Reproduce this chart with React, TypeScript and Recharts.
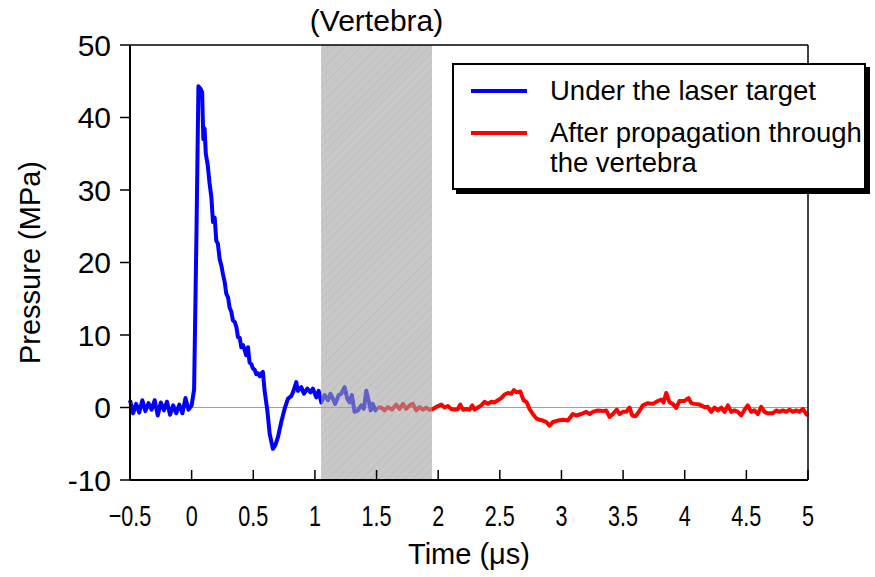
import {
  LineChart,
  Line,
  XAxis,
  YAxis,
  ReferenceArea,
  ReferenceLine,
  Legend,
} from "recharts";

const FONT = '"Liberation Sans", Arial, Helvetica, sans-serif';

// time axis (µs) and pressure (MPa) samples for each probe
const blueTime = [
  -0.5, -0.475, -0.45, -0.425, -0.4, -0.375, -0.35, -0.325, -0.3, -0.275, -0.25,
  -0.225, -0.2, -0.175, -0.15, -0.125, -0.1, -0.075, -0.05, -0.025, 0, 0.02,
  0.04, 0.055, 0.07, 0.085, 0.095, 0.105, 0.115, 0.13, 0.145, 0.16, 0.173,
  0.187, 0.2, 0.213, 0.227, 0.241, 0.254, 0.268, 0.281, 0.295, 0.308, 0.322,
  0.335, 0.35, 0.363, 0.376, 0.39, 0.403, 0.417, 0.43, 0.443, 0.457, 0.47,
  0.484, 0.497, 0.511, 0.525, 0.538, 0.552, 0.565, 0.578, 0.592, 0.614, 0.633,
  0.659, 0.679, 0.7, 0.727, 0.754, 0.781, 0.809, 0.822, 0.849, 0.862, 0.89,
  0.911, 0.938, 0.965, 0.984, 1.011, 1.03, 1.052, 1.079, 1.105, 1.127, 1.146,
  1.165, 1.192, 1.214, 1.241, 1.263, 1.281, 1.3, 1.322, 1.349, 1.376, 1.397,
  1.417, 1.436, 1.452, 1.47, 1.49, 1.506,
];
const bluePressure = [
  1.0, -0.8, 0.5, -0.7, 1.0, -0.5, 0.6, -0.3, 1.0, -1.1, 0.7, -0.4, 0.8, -1.0,
  0.3, -0.8, 0.4, -0.8, 1.3, -0.3, 0.3, 2.5, 25, 44.3, 44.0, 43.5, 37, 38.5,
  35, 33.5, 31, 29, 25.6, 26.2, 23, 22.6, 20.5, 19.6, 18.4, 17.3, 15.7, 15.2,
  13.8, 13.2, 12, 11.8, 11.1, 9.7, 9.6, 8.3, 8.6, 7.9, 7.2, 8.3, 6.2, 6.0, 5.4,
  5.2, 4.6, 4.7, 4.3, 4.7, 4.9, 2.3, -0.4, -3.6, -5.7, -5.2, -4.1, -2, -0.2,
  1.2, 1.6, 2.1, 3.5, 2.3, 2.8, 1.9, 2.6, 2.1, 2.6, 1.4, 2.3, 0.7, 1.7, 1.0,
  1.9, 1.2, 0.5, 1.7, 1.9, 2.8, 1.2, 0.7, 1.7, -0.6, -0.4, 0.3, -0.2, 2.3, 1.0,
  -0.4, 0.5, -0.4, 0.0,
];

const redTime = [
  1.506, 1.538, 1.565, 1.592, 1.625, 1.66, 1.687, 1.714, 1.741, 1.768, 1.795,
  1.822, 1.849, 1.876, 1.903, 1.93, 1.957, 1.998, 2.025, 2.052, 2.079, 2.106,
  2.133, 2.16, 2.179, 2.2, 2.228, 2.255, 2.277, 2.295, 2.322, 2.35, 2.376,
  2.403, 2.431, 2.457, 2.484, 2.512, 2.539, 2.565, 2.593, 2.614, 2.638, 2.666,
  2.693, 2.719, 2.741, 2.768, 2.796, 2.822, 2.849, 2.877, 2.903, 2.93, 2.971,
  3.011, 3.052, 3.092, 3.12, 3.161, 3.201, 3.228, 3.255, 3.295, 3.336, 3.363,
  3.39, 3.417, 3.449, 3.471, 3.498, 3.526, 3.552, 3.574, 3.601, 3.628, 3.66,
  3.701, 3.741, 3.782, 3.809, 3.828, 3.85, 3.877, 3.903, 3.931, 3.958, 3.998,
  4.031, 4.053, 4.08, 4.12, 4.161, 4.187, 4.215, 4.242, 4.269, 4.296, 4.323,
  4.35, 4.377, 4.404, 4.431, 4.458, 4.485, 4.512, 4.539, 4.566, 4.593, 4.62,
  4.647, 4.674, 4.715, 4.742, 4.769, 4.796, 4.823, 4.85, 4.877, 4.904, 4.931,
  4.958, 4.985, 5.0,
];
const redPressure = [
  0.0, 0, -0.4, 0.05, -0.3, 0.4, -0.2, 0.5, -0.2, 0.3, 0.5, -0.4, 0.05, -0.3,
  -0.05, -0.3, -0.2, 0.2, 0.4, 0, 0.2, -0.2, -0.3, -0.2, 0.4, -0.3, -0.2, -0.3,
  0.3, -0.3, 0, 0.3, 0.8, 0.5, 0.8, 0.7, 1.0, 1.3, 1.8, 2.0, 1.9, 2.4, 2.1,
  2.2, 1.0, 0.7, -0.2, -0.9, -1.5, -1.7, -1.8, -2.0, -2.5, -2.0, -1.8, -1.7,
  -1.8, -0.9, -1.1, -0.9, -0.6, -0.9, -0.6, -0.4, -0.5, -0.4, -1.3, -0.9, -0.3,
  -0.9, -0.6, -0.6, 0, -1.1, -1.2, -0.6, 0.3, 0.6, 0.5, 0.9, 1.1, 0.7, 2.0, 0.7,
  0.5, -0.05, 0.9, 0.9, 1.3, 0.6, 0.5, 0.4, 0.05, 0.1, -0.6, 0, -0.4, 0, -0.6,
  0.3, -0.6, -0.4, -0.6, -1.1, -0.3, 0.3, -0.6, -0.4, -0.9, 0.1, -0.6, -0.8,
  -0.8, -0.4, -0.6, -0.4, -0.6, -0.3, -0.6, -0.4, -0.6, -0.2, -0.9, -1.1,
];

const seriesNames = [
  "Under the laser target",
  "After propagation through\nthe vertebra",
];
const timeTicks = [-0.5, 0, 0.5, 1, 1.5, 2, 2.5, 3, 3.5, 4, 4.5, 5];
const pressureTicks = [-10, 0, 10, 20, 30, 40, 50];
const vertebraSpan = [1.05, 1.95];

const blueData = blueTime.map((t, i) => ({ t, p: bluePressure[i] }));
const redData = redTime.map((t, i) => ({ t, p: redPressure[i] }));

const TimeTick = (props: any) => {
  const { x, y, payload } = props;
  const label = String(payload.value).replace("-", "\u2212");
  return (
    <g>
      <line x1={x} y1={y} x2={x} y2={y - 10} stroke="#000" strokeWidth={1.5} />
      <text
        transform={`translate(${x},${y + 46}) scale(0.72,1)`}
        textAnchor="middle"
        fontFamily={FONT}
        fontSize={30}
        fill="#000"
      >
        {label}
      </text>
    </g>
  );
};

const renderLegend = (props: any) => {
  const payload = props.payload || [];
  // keep the legend rows in series order
  const items = seriesNames
    .map((name) => payload.find((e: any) => e.value === name))
    .filter(Boolean);
  return (
    <div
      style={{
        position: "relative",
        width: 414,
        height: 127,
        boxSizing: "border-box",
        border: "2px solid #000",
        background: "#fff",
        boxShadow: "4px 4px 0 #000",
        fontFamily: FONT,
        fontSize: 27.5,
        color: "#000",
      }}
    >
      {items.map((entry: any, i: number) => (
        <div
          key={entry.value}
          style={{ position: "absolute", left: 0, top: i === 0 ? 11 : 53, width: 410 }}
        >
          <div
            style={{
              position: "absolute",
              left: 17,
              top: 13,
              width: 56,
              height: 4,
              background: entry.color,
            }}
          />
          <div
            style={{
              position: "absolute",
              left: 96,
              top: 0,
              lineHeight: "30px",
              whiteSpace: "pre",
            }}
          >
            {entry.value}
          </div>
        </div>
      ))}
    </div>
  );
};

export default function App() {
  return (
    <div style={{ position: "absolute", left: 0, top: 0, width: 875, height: 577, background: "#fff" }}>
      <LineChart
        width={875}
        height={577}
        margin={{ top: 45, right: 67, bottom: 0, left: 70 }}
      >
        <defs>
          <pattern id="vertebraHatch" width="6" height="6" patternUnits="userSpaceOnUse" patternTransform="rotate(45)">
            <rect width="6" height="6" fill="#a4a4a4" />
            <line x1="0" y1="0" x2="0" y2="6" stroke="#8f8f8f" strokeWidth="1.5" />
          </pattern>
        </defs>
        <XAxis
          type="number"
          dataKey="t"
          domain={[-0.5, 5]}
          ticks={timeTicks}
          allowDuplicatedCategory={false}
          height={97}
          axisLine={{ stroke: "#000", strokeWidth: 2 }}
          tickLine={false}
          tickSize={0}
          tickMargin={0}
          tick={<TimeTick />}
          interval={0}
          label={{
            content: (p: any) => {
              const vb = p.viewBox;
              return (
                <text
                  x={vb.x + vb.width / 2}
                  y={564}
                  textAnchor="middle"
                  fontFamily={FONT}
                  fontSize={29}
                  fill="#000"
                >
                  Time (μs)
                </text>
              );
            },
          }}
        />
        <YAxis
          type="number"
          dataKey="p"
          domain={[-10, 50]}
          ticks={pressureTicks}
          width={60}
          axisLine={{ stroke: "#000", strokeWidth: 2 }}
          tickLine={{ stroke: "#000", strokeWidth: 1.5 }}
          tickSize={10}
          tickMargin={9}
          tick={{ fontFamily: FONT, fontSize: 30, fill: "#000" }}
          interval={0}
          label={{
            content: (p: any) => {
              const vb = p.viewBox;
              const cy = vb.y + vb.height / 2;
              return (
                <text
                  x={40}
                  y={cy}
                  transform={`rotate(-90, 40, ${cy})`}
                  textAnchor="middle"
                  fontFamily={FONT}
                  fontSize={29}
                  fill="#000"
                >
                  Pressure (MPa)
                </text>
              );
            },
          }}
        />
        <ReferenceLine y={0} stroke="#a0a0a0" strokeWidth={1} zIndex={-50} />
        <Line
          data={blueData}
          dataKey="p"
          name={seriesNames[0]}
          stroke="#0000ff"
          strokeWidth={4}
          strokeLinejoin="round"
          dot={false}
          activeDot={false}
          type="linear"
          isAnimationActive={false}
        />
        <Line
          data={redData}
          dataKey="p"
          name={seriesNames[1]}
          stroke="#ff0000"
          strokeWidth={4}
          strokeLinejoin="round"
          dot={false}
          activeDot={false}
          type="linear"
          isAnimationActive={false}
        />
        <ReferenceArea
          x1={vertebraSpan[0]}
          x2={vertebraSpan[1]}
          y1={-10}
          y2={50}
          fill="url(#vertebraHatch)"
          fillOpacity={0.6}
          stroke="none"
          zIndex={450}
          label={{
            value: "(Vertebra)",
            position: "top",
            offset: 14,
            fontFamily: FONT,
            fontSize: 30,
            fill: "#000",
          }}
        />
        <ReferenceLine y={50} stroke="#000" strokeWidth={1.5} zIndex={600} />
        <ReferenceLine x={5} stroke="#000" strokeWidth={1.5} zIndex={600} />
        <Legend
          layout="vertical"
          align="center"
          verticalAlign="middle"
          content={renderLegend}
          wrapperStyle={{ position: "absolute", left: 452, top: 63, width: 414, height: 127 }}
        />
      </LineChart>
    </div>
  );
}
